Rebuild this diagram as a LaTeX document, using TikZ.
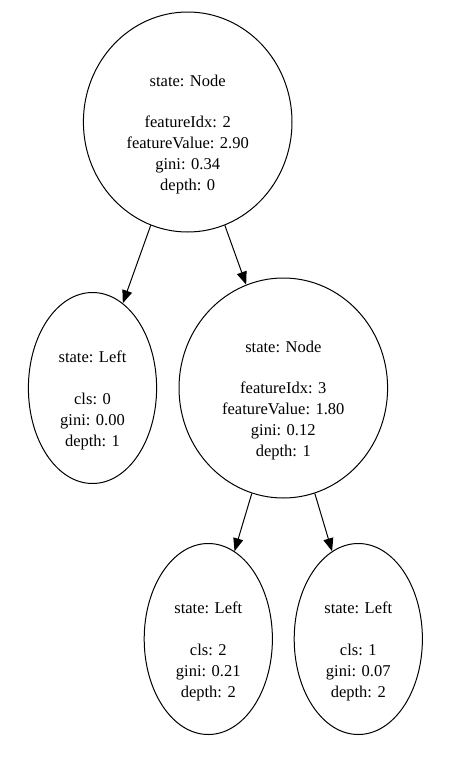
\documentclass[tikz,border=0pt]{standalone}
\usepackage{fontspec}
\setmainfont{Liberation Serif}
\usetikzlibrary{shapes.geometric,arrows.meta}
\begin{document}
\begin{tikzpicture}[x=1pt,y=1pt,
        treenode/.style={draw,ellipse,line width=1pt,inner sep=0pt},
        splitnode/.style={treenode,minimum width=208.6pt,minimum height=220pt},
        leafnode/.style={treenode,minimum width=128.2pt,minimum height=191pt},
        nodetext/.style={align=center,inner sep=0pt,font=\fontsize{16.5}{20.8}\selectfont},
        treeedge/.style={-{Triangle[length=13pt,width=10pt]},line width=1pt}]
        \useasboundingbox (0,0) rectangle (450,-758);
        \node [splitnode] (root) at (187.7,-122) {};
        \node [splitnode] (node1) at (283.3,-388) {};
        \node [leafnode] (cls0) at (92.5,-388) {};
        \node [leafnode] (cls2) at (208.3,-639) {};
        \node [leafnode] (cls1) at (358.3,-639) {};
        \node [nodetext] (root-text) at ([yshift=-12.2pt]root.center) {state: Node\\[20.8pt]featureIdx: 2\\featureValue: 2.90\\gini: 0.34\\depth: 0};
        \node [nodetext] (node1-text) at ([yshift=-12.2pt]node1.center) {state: Node\\[20.8pt]featureIdx: 3\\featureValue: 1.80\\gini: 0.12\\depth: 1};
        \node [nodetext] (cls0-text) at ([yshift=-12.5pt]cls0.center) {state: Left\\[20.8pt]cls: 0\\gini: 0.00\\depth: 1};
        \node [nodetext] (cls2-text) at ([yshift=-12.5pt]cls2.center) {state: Left\\[20.8pt]cls: 2\\gini: 0.21\\depth: 2};
        \node [nodetext] (cls1-text) at ([yshift=-12.5pt]cls1.center) {state: Left\\[20.8pt]cls: 1\\gini: 0.07\\depth: 2};
        \draw [treeedge] (root) -- (cls0);
        \draw [treeedge] (root) -- (node1);
        \draw [treeedge] (node1) -- (cls2);
        \draw [treeedge] (node1) -- (cls1);
      \end{tikzpicture}
\end{document}
